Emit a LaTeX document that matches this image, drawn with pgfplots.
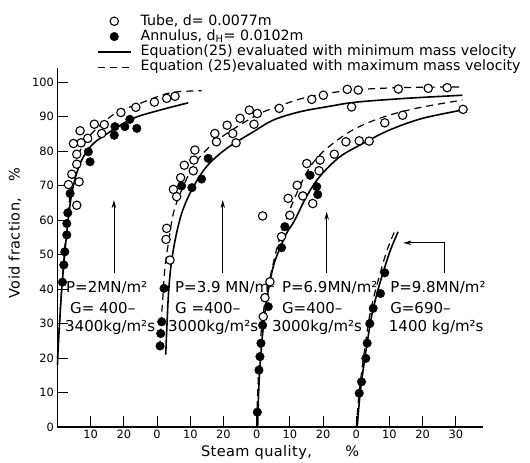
\documentclass[border=0pt]{standalone}
\usepackage{fontspec}
\setmainfont{DejaVu Sans}
\usepackage{pgfplots}
\usepackage{pgfplotstable}
\pgfplotsset{compat=1.18}
\usetikzlibrary{arrows.meta}

\pgfplotsset{
  markleg/.style={legend image code/.code={\draw[##1] plot coordinates {(16.5pt,0pt)};}},
  lineleg/.style={legend image code/.code={\draw[##1] (0pt,0pt) -- (33pt,0pt);}},
}

% ---------- data: q = steam quality (%) of each group, v = void fraction (%)
\pgfplotstableread{
q v
35.4 95.9
32.9 95.3
29.2 94.2
23.6 92.7
19.1 91.2
14.1 87.7
11.1 87.8
13.3 85.1
6.8 85.9
9.1 83.7
7.1 82.4
4.8 82.2
5.8 79.1
5.8 76.2
4.3 73.3
3.3 70.3
6.5 71.1
5.8 64.3
}\GoneOpen
\pgfplotstableread{
q v
21.8 89.2
23.9 86.6
20.3 87.1
17.3 87.1
17.1 84.6
9.3 79.8
9.8 76.9
3.8 67.7
3.1 62.1
2.8 59.0
2.8 55.7
2.2 50.8
1.9 47.0
1.5 42.0
}\GoneFilled
\pgfplotstableread{
q v
0.0 18
0.2 23
1.2 38.8
2.2 50.4
3.2 60
4.5 68.7
6.8 76.4
10.3 81.7
15.8 85.6
22.8 89.5
30.9 91.9
39.4 94.0
}\GoneSolid
\pgfplotstableread{
q v
0.0 20
0.75 33
1.75 46.5
2.8 59
3.8 67
5.5 76
7.5 81.5
10.8 85.6
17.3 90.9
24.8 93.8
33.9 96.9
43.4 97.5
}\GoneDashed

\pgfplotstableread{
q v
50.1 96.2
46.6 95.0
36.8 92.4
30.2 90.9
27.8 91.9
29.2 87.8
25.0 89.5
21.1 87.5
17.4 85.1
17.9 82.7
22.8 85.1
23.8 82.4
11.4 80.3
11.1 77.4
8.2 75.9
10.9 74.3
7.1 72.3
4.9 68.9
5.9 66.8
2.9 57.6
2.7 54.4
3.9 48.4
57.3 97.9
60.6 97.7
58.6 92.8
72.7 98.0
81.7 98.2
87.4 98.4
}\GtwoOpen
\pgfplotstableread{
q v
15.4 77.9
13.4 71.9
10.5 69.4
7.4 69.9
2.1 40.2
1.4 30.5
1.1 27.1
0.9 23.5
}\GtwoFilled
\pgfplotstableread{
q v
2.6 21
3.0 30
3.4 38
4.1 46
5.4 54
7.4 61.9
10.4 68.7
14.9 75.5
21 80.8
29 85.6
35 89.0
43 91.4
52 93.0
60 94.2
75 95.3
92 96.2
}\GtwoSolid
\pgfplotstableread{
q v
0.9 23
1.2 30
1.7 37
2.4 46.5
3.4 53.2
4.9 61.9
7.4 68.7
11.4 76.4
16.9 82.2
24 87
31 90.9
36 92.8
45 95.6
58 97.6
73 98.4
91 98.6
}\GtwoDashed

\pgfplotstableread{
q v
62.2 92.1
44 90.4
38.6 88.2
33.9 82.9
30.9 83.0
26.9 82.7
23.4 79.1
19.1 77.4
15.1 76.4
18.8 74.3
12.2 70.1
13.9 67.0
9.5 66.3
16.9 64.8
10.0 61.4
7.5 55.2
1.8 61.2
4.0 42.1
2.5 37.5
2.0 32.0
}\GthreeOpen
\pgfplotstableread{
q v
16.1 73.0
18.1 69.7
18.4 67.4
8.5 58.1
7.5 52.0
3.5 34.9
1.8 29.5
1.3 24.3
1.0 20.4
0.7 16.5
0.2 4.3
}\GthreeFilled
\pgfplotstableread{
q v
0.3 0
0.6 10
1.0 17.5
1.8 27
3.0 36.8
5.0 46.5
7.3 52.5
9.2 56.5
11.5 60
15 66.8
19 72.6
25 78.3
32 82.2
40 86.1
50 89.5
63 92.1
}\GthreeSolid
\pgfplotstableread{
q v
0.0 2
0.4 12
0.8 20
1.5 29
2.6 37
4.3 44.5
6.3 52.5
8.5 59
11.5 66.5
15.5 74.5
20 79.8
28 85.6
37 89.5
48 92.4
62 94.8
}\GthreeDashed

\pgfplotstableread{
q v
0.9 9.8
1.6 13.1
2.9 19.9
3.3 24.3
4.1 30.0
5.1 34.4
7.3 38.7
8.6 44.7
}\GfourFilled
\pgfplotstableread{
q v
0.3 0
1.2 10
2.3 18
3.4 25
4.6 32
6.2 38.5
8.0 44.5
10.2 51
12.6 56.6
}\GfourSolid
\pgfplotstableread{
q v
0.0 0
0.9 10
1.9 18
2.9 25
4.0 32
5.5 38.5
7.2 44.5
9.2 51
11.5 56.6
}\GfourDashed

\newcommand\annfont{\fontsize{15}{17}\selectfont}

\begin{document}
\begin{tikzpicture}
\useasboundingbox (0pt,0pt) rectangle (530pt,463pt);
\begin{axis}[
  at={(57.5pt,36pt)}, anchor=south west,
  scale only axis, width=425.5pt, height=359pt,
  xmin=0, xmax=128.2, ymin=0, ymax=104.1,
  clip=false,
  axis lines=left,
  axis line style={-, line width=1.3pt, black},
  tick align=inside,
  major tick length=11pt,
  tick style={line width=0.9pt, black},
  xtick={10,20,...,120},
  xticklabels={10,20,0,10,20,0,10,20,0,10,20,30},
  ytick={0,10,...,100},
  /pgf/number format/assume math mode=true,
  ticklabel style={font=\fontsize{11.4}{13}\selectfont},
  xlabel={\addfontfeatures{LetterSpace=3}Steam quality,\hspace{2.3em}\%},
  ylabel={\addfontfeatures{LetterSpace=3}Void fraction,\hspace{1.1em}\%},
  label style={font=\fontsize{14.5}{16}\selectfont},
  xlabel style={at={(axis description cs:0.523,-0.0724)}, anchor=center},
  ylabel style={at={(axis description cs:-0.1,0.54)}, anchor=center, rotate=0},
  legend style={
    at={(axis description cs:0.0928,1.149)}, anchor=north west,
    draw=none, fill=none, inner sep=0pt, outer sep=0pt,
    font=\fontsize{14.2}{16}\selectfont,
    row sep=1.8pt,
    nodes={inner sep=0pt, text height=10.5pt, text depth=3pt},
    /tikz/every odd column/.append style={column sep=9pt},
  },
  legend cell align=left,
]
% legend images
\addlegendimage{markleg, mark=*, mark size=4.2pt, mark options={fill=white, draw=black, line width=1.1pt, solid}}
\addlegendentry{Tube, d= 0.0077m}
\addlegendimage{markleg, mark=*, mark size=4.3pt, mark options={fill=black, draw=black}}
\addlegendentry{Annulus, d\textsubscript{H}= 0.0102m}
\addlegendimage{lineleg, black, line width=1.6pt}
\addlegendentry{Equation(25) evaluated with minimum mass velocity}
\addlegendimage{lineleg, black, line width=1.2pt, dash pattern=on 7pt off 5pt}
\addlegendentry{Equation (25)evaluated with maximum mass velocity}

\pgfplotsset{
  solidc/.style={black, line width=1.6pt, smooth, tension=0.55, no marks, forget plot},
  dashc/.style={black, line width=1.2pt, dash pattern=on 7pt off 5pt, smooth, tension=0.55, no marks, forget plot},
  openm/.style={only marks, mark=*, mark size=4.2pt, mark options={fill=white, draw=black, line width=1.1pt, solid}, forget plot},
  fillm/.style={only marks, mark=*, mark size=4.3pt, mark options={fill=black, draw=black}, forget plot},
}

% group 1 (offset 0)
\addplot[solidc] table[x expr=\thisrow{q}+0, y=v]{\GoneSolid};
\addplot[dashc] table[x expr=\thisrow{q}+0, y=v]{\GoneDashed};
% group 2 (offset 30)
\addplot[solidc] table[x expr=\thisrow{q}+30, y=v]{\GtwoSolid};
\addplot[dashc] table[x expr=\thisrow{q}+30, y=v]{\GtwoDashed};
% group 3 (offset 60)
\addplot[solidc] table[x expr=\thisrow{q}+60, y=v]{\GthreeSolid};
\addplot[dashc] table[x expr=\thisrow{q}+60, y=v]{\GthreeDashed};
% group 4 (offset 90)
\addplot[solidc] table[x expr=\thisrow{q}+90, y=v]{\GfourSolid};
\addplot[dashc] table[x expr=\thisrow{q}+90, y=v]{\GfourDashed};

\addplot[openm] table[x expr=\thisrow{q}+0, y=v]{\GoneOpen};
\addplot[fillm] table[x expr=\thisrow{q}+0, y=v]{\GoneFilled};
\addplot[openm] table[x expr=\thisrow{q}+30, y=v]{\GtwoOpen};
\addplot[fillm] table[x expr=\thisrow{q}+30, y=v]{\GtwoFilled};
\addplot[openm] table[x expr=\thisrow{q}+60, y=v]{\GthreeOpen};
\addplot[fillm] table[x expr=\thisrow{q}+60, y=v]{\GthreeFilled};
\addplot[fillm] table[x expr=\thisrow{q}+90, y=v]{\GfourFilled};

% arrows
\draw[-{Stealth[length=8pt,width=4.5pt]}, line width=0.8pt] (axis cs:17,44.6) -- (axis cs:17,65.8);
\draw[-{Stealth[length=8pt,width=4.5pt]}, line width=0.8pt] (axis cs:49.8,44.6) -- (axis cs:49.8,65.8);
\draw[-{Stealth[length=8pt,width=4.5pt]}, line width=0.8pt] (axis cs:81.1,44.6) -- (axis cs:81.1,62.4);
\draw[-{Stealth[length=8pt,width=4.5pt]}, line width=0.8pt] (axis cs:116.7,44.6) -- (axis cs:116.7,53.4) -- (axis cs:104.2,53.4);

% annotations
\begin{scope}[every node/.style={anchor=base west, inner sep=0pt, font=\annfont}]
\node at (axis cs:2.56,39.0) {P=2MN/m²};
\node at (axis cs:3.77,33.0) {G= 400–};
\node at (axis cs:2.26,27.8) {3400kg/m²s};
\node at (axis cs:35.4,39.0) {P=3.9 MN/m²};
\node at (axis cs:35.4,33.0) {G =400–};
\node at (axis cs:33.3,27.8) {3000kg/m²s};
\node at (axis cs:67.6,39.0) {P=6.9MN/m²};
\node at (axis cs:67.6,33.0) {G=400–};
\node at (axis cs:64.6,27.8) {3000kg/m²s};
\node at (axis cs:100.2,39.0) {P=9.8MN/m²};
\node at (axis cs:100.2,33.0) {G=690–};
\node at (axis cs:99.8,27.8) {1400 kg/m²s};
\end{scope}
\end{axis}
\end{tikzpicture}
\end{document}
